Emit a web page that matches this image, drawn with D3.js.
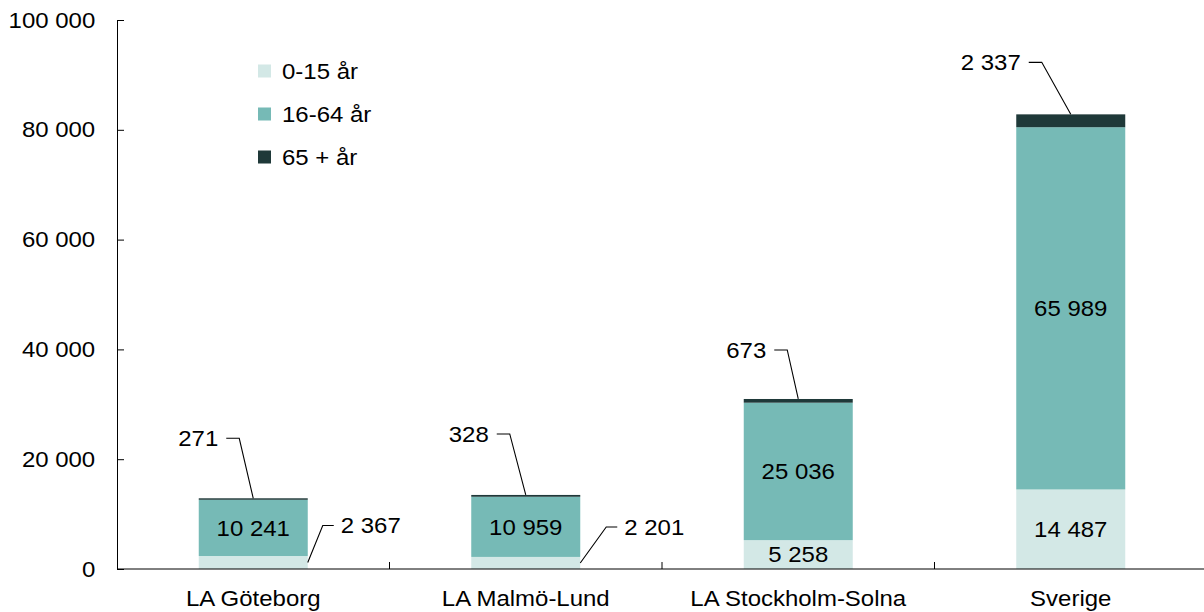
<!DOCTYPE html>
<html>
<head>
<meta charset="utf-8">
<script src="https://cdn.jsdelivr.net/npm/d3@7"></script>
<style>
  body { margin: 0; background: #fff; }
  text { font-family: "Liberation Sans", Arial, sans-serif; }
</style>
</head>
<body>
<div id="container"></div>
<script>
const width = 1204;
const height = 612;

const categories = ['LA Göteborg', 'LA Malmö-Lund', 'LA Stockholm-Solna', 'Sverige'];
const seriesNames = ['0-15 år', '16-64 år', '65 + år'];
const age0to15 = [2367, 2201, 5258, 14487];
const age16to64 = [10241, 10959, 25036, 65989];
const age65plus = [271, 328, 673, 2337];
const yTicks = [0, 20000, 40000, 60000, 80000, 100000];

const colors = ['#d3e8e6', '#76bab6', '#1f3939'];

// callout tweaks (pixels), only layout
const topCallout = { lift: [60, 61, 49, 52], elbow: [-14, -16, -11, -29] };
const sideCallout = { show: [true, true, false, false], dx: [15, 26], dy: [-37, -36] };

// the original text is a bit wider than Arial/Liberation
const SX = 1.09;
const place = (px, py) => `translate(${px},${py}) scale(${SX},1)`;

const locale = d3.formatLocale({ decimal: ',', thousands: ' ', grouping: [3], currency: ['', ' kr'] });
const fmt = locale.format(',d');

const margin = { top: 20, right: -3, bottom: 43, left: 117 };

const x = d3.scaleBand()
  .domain(categories)
  .range([margin.left, width - margin.right])
  .paddingInner(0.6)
  .paddingOuter(0.3);

const y = d3.scaleLinear()
  .domain([0, 100000])
  .range([height - margin.bottom, margin.top]);

const rows = categories.map((c, i) => ({
  cat: c,
  [seriesNames[0]]: age0to15[i],
  [seriesNames[1]]: age16to64[i],
  [seriesNames[2]]: age65plus[i]
}));
const stacked = d3.stack().keys(seriesNames)(rows);

const svg = d3.select('#container')
  .append('svg')
  .attr('width', width)
  .attr('height', height)
  .attr('font-size', 22);

// bars
svg.append('g')
  .selectAll('g')
  .data(stacked)
  .join('g')
  .attr('fill', (d, i) => colors[i])
  .selectAll('rect')
  .data(d => d)
  .join('rect')
  .attr('x', d => x(d.data.cat))
  .attr('width', x.bandwidth())
  .attr('y', d => y(d[1]))
  .attr('height', d => y(d[0]) - y(d[1]));

// y axis
svg.append('g')
  .attr('transform', `translate(${margin.left},0)`)
  .call(d3.axisLeft(y).tickValues(yTicks).tickFormat(fmt).tickSizeInner(-7).tickSizeOuter(0).tickPadding(20))
  .call(g => g.select('.domain').attr('stroke', '#000'))
  .call(g => g.selectAll('.tick line').attr('stroke', '#000'))
  .call(g => g.selectAll('.tick text')
    .attr('font-size', 22)
    .attr('font-family', '"Liberation Sans", Arial, sans-serif')
    .attr('fill', '#000')
    .attr('transform', `scale(${SX},1)`));

// x axis with boundary ticks
const xAxisG = svg.append('g')
  .attr('transform', `translate(0,${y(0)})`);
xAxisG.append('line')
  .attr('x1', margin.left).attr('x2', width)
  .attr('stroke', '#000');
xAxisG.selectAll('.bt')
  .data(categories.slice(1))
  .join('line')
  .attr('class', 'bt')
  .attr('x1', d => x(d) - (x.step() - x.bandwidth()) / 2)
  .attr('x2', d => x(d) - (x.step() - x.bandwidth()) / 2)
  .attr('y1', 0).attr('y2', -7)
  .attr('stroke', '#000');
xAxisG.selectAll('.cl')
  .data(categories)
  .join('text')
  .attr('class', 'cl')
  .attr('transform', d => place(x(d) + x.bandwidth() / 2, 37))
  .attr('text-anchor', 'middle')
  .attr('fill', '#000')
  .text(d => d);

// inside labels
const inside = [];
stacked.forEach((s, si) => s.forEach((d, ci) => {
  if (si === 2) return;
  if (si === 0 && sideCallout.show[ci]) return;
  inside.push({ cx: x(d.data.cat) + x.bandwidth() / 2, cy: (y(d[0]) + y(d[1])) / 2, v: d[1] - d[0] });
}));
svg.append('g')
  .selectAll('text')
  .data(inside)
  .join('text')
  .attr('transform', d => place(d.cx, d.cy))
  .attr('dy', '0.35em')
  .attr('text-anchor', 'middle')
  .attr('fill', '#000')
  .text(d => fmt(d.v));

// top callouts (65 + år)
const callG = svg.append('g').attr('fill', 'none').attr('stroke', '#000').attr('stroke-width', 1.1);
const labG = svg.append('g').attr('fill', '#000');
stacked[2].forEach((d, i) => {
  const cx = x(d.data.cat) + x.bandwidth() / 2;
  const top = y(d[1]);
  const ly = top - topCallout.lift[i];
  const ex = cx + topCallout.elbow[i];
  callG.append('path').attr('d', `M${ex - 13},${ly}H${ex}L${cx},${top}`);
  labG.append('text').attr('transform', place(ex - 21, ly)).attr('dy', '0.35em')
    .attr('text-anchor', 'end').text(fmt(d[1] - d[0]));
});

// side callouts (0-15 år)
stacked[0].forEach((d, i) => {
  if (!sideCallout.show[i]) return;
  const rx = x(d.data.cat) + x.bandwidth();
  const my = (y(d[0]) + y(d[1])) / 2;
  const ex = rx + sideCallout.dx[i];
  const ey = my + sideCallout.dy[i];
  callG.append('path').attr('d', `M${rx},${my}L${ex},${ey}H${ex + 11}`);
  labG.append('text').attr('transform', place(ex + 18, ey)).attr('dy', '0.35em')
    .attr('text-anchor', 'start').text(fmt(d[1] - d[0]));
});

// legend
const legend = svg.append('g')
  .selectAll('g')
  .data(seriesNames)
  .join('g')
  .attr('transform', (d, i) => `translate(258,${71 + i * 43})`);
legend.append('rect')
  .attr('x', 0).attr('y', -6.5)
  .attr('width', 13).attr('height', 13)
  .attr('fill', (d, i) => colors[i]);
legend.append('text')
  .attr('transform', place(24, 0)).attr('dy', '0.35em')
  .attr('fill', '#000')
  .text(d => d);
</script>
</body>
</html>
